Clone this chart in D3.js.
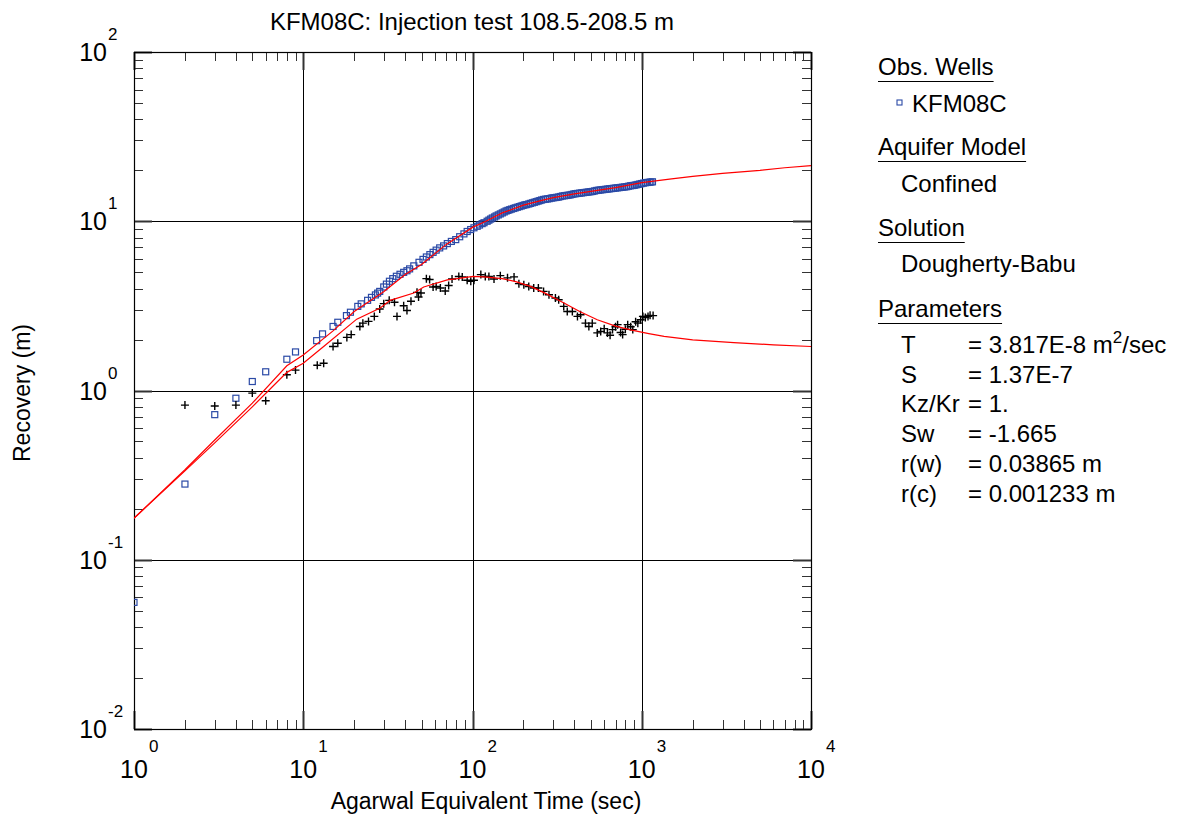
<!DOCTYPE html>
<html>
<head>
<meta charset="utf-8">
<script src="https://cdn.jsdelivr.net/npm/d3@7"></script>
<style>
  body { margin: 0; background: #fff; }
  text { font-family: Arial, "Liberation Sans", sans-serif; fill: #000; }
</style>
</head>
<body>
<div id="chart"></div>
<script>
////////////////// data ////////////////////////////////////

// observed recovery (blue squares)
const obsTime = [1, 2, 3, 4, 5, 6, 8, 9, 12, 13, 15, 16, 18, 19, 21, 22, 24, 25.3, 26.7, 27.5, 28.3, 29.9, 31, 32.3,
                 33.8, 35.5, 37.3, 39.2, 41, 42.5, 45, 48.3, 51, 53.4, 56, 58.5, 61, 64, 67.5, 71, 75, 79.6, 84, 89,
                 93, 97.6, 102, 106.6, 110, 114, 117, 122,
                 125, 128, 131, 135, 138, 142, 146, 150, 154, 158, 162, 166, 170, 175, 179, 184, 189, 194, 199, 204,
                 209, 215, 220, 226, 232, 238, 244, 250, 256, 263, 270, 277, 284, 292, 299, 307, 315, 323, 331, 340,
                 349, 358, 367, 377, 387, 397, 407, 418, 429, 440, 451, 463, 475, 487, 500, 513, 526, 540, 554, 568,
                 583, 598, 614, 630, 646, 663, 680, 698, 716, 735, 754, 773, 793, 814, 835, 857, 879, 902, 925, 949,
                 974, 999, 1025, 1052, 1079, 1107, 1132, 1157];
const obsRecovery = [0.056, 0.28, 0.72, 0.90, 1.13, 1.29, 1.53, 1.69, 1.97, 2.16, 2.39, 2.53, 2.77, 2.90, 3.14, 3.25, 3.41, 3.55, 3.67, 3.76, 3.85, 4.09, 4.25, 4.42,
                     4.58, 4.73, 4.86, 4.99, 5.10, 5.23, 5.45, 5.72, 5.95, 6.15, 6.35, 6.55, 6.75, 6.96, 7.15, 7.38, 7.60, 7.79, 8.10, 8.42,
                     8.70, 8.93, 9.15, 9.34, 9.50, 9.68, 9.80, 10.0,
                     10.15, 10.3, 10.45, 10.6, 10.75, 10.9, 11.05, 11.2, 11.35, 11.5, 11.6, 11.7, 11.8, 11.9, 12.0, 12.1, 12.2, 12.3, 12.4, 12.5,
                     12.55, 12.65, 12.75, 12.85, 12.95, 13.05, 13.15, 13.25, 13.35, 13.45, 13.5, 13.55, 13.6, 13.7, 13.75, 13.8, 13.85, 13.9, 14.0, 14.1,
                     14.15, 14.2, 14.25, 14.3, 14.4, 14.5, 14.55, 14.6, 14.65, 14.7, 14.75, 14.8, 14.85, 14.9, 14.95, 15.0, 15.1, 15.2, 15.25, 15.3,
                     15.35, 15.4, 15.45, 15.5, 15.55, 15.6, 15.65, 15.7, 15.75, 15.8, 15.85, 15.9, 15.95, 16.0, 16.1, 16.2, 16.25, 16.3, 16.4, 16.5,
                     16.6, 16.7, 16.8, 16.9, 16.95, 17.0, 17.05, 17.1];

// derivative (black crosses)
const derivTime = [2, 3, 4, 5, 6, 8, 9, 12.1, 13.2, 15, 16, 18.1, 19.2, 21.6, 22.5, 24.3, 26.3, 28.3, 29.9, 32.2, 34.6, 35.8,
                   39.2, 41, 43.3, 47, 48, 49.6, 53.4, 55.8, 58.5, 61, 64.6, 69, 72.3, 75.7, 83, 87, 93, 97.7, 102, 112,
                   119, 125, 134, 146, 161, 176, 188, 201, 215, 230, 245, 263, 283, 309, 323, 346, 363, 389, 417, 435,
                   465, 487, 510, 546, 572, 600, 627, 650, 672, 700, 720, 750, 771, 800, 826, 860, 885, 920, 948, 985,
                   1016, 1050, 1089, 1120, 1167];
const derivValue = [0.82, 0.81, 0.82, 0.965, 0.87, 1.24, 1.32, 1.41, 1.45, 1.82, 1.90, 2.06, 2.14, 2.39, 2.50, 2.56, 2.74, 3.03, 3.26, 3.41, 3.32, 2.74,
                    3.17, 2.97, 3.37, 3.80, 3.57, 3.77, 4.58, 4.53, 4.09, 4.12, 4.03, 3.87, 4.17, 4.56, 4.72, 4.69, 4.48, 4.42, 4.48, 4.84,
                    4.72, 4.72, 4.56, 4.77, 4.63, 4.69, 4.28, 4.22, 4.12, 4.03, 4.03, 3.85, 3.68, 3.52, 3.44, 3.14, 2.93, 2.93, 2.74, 2.80,
                    2.50, 2.39, 2.50, 2.19, 2.23, 2.32, 2.19, 2.12, 2.29, 2.38, 2.45, 2.20, 2.14, 2.30, 2.45, 2.38, 2.29, 2.55, 2.50, 2.62,
                    2.74, 2.70, 2.74, 2.78, 2.77];

// fitted type curves (red)
const fitTime = [1, 2, 3, 5, 8, 10, 15, 20, 30, 40, 50, 70, 100, 120, 150, 200, 250, 300, 400, 500, 700, 1000, 1500, 2000, 3000, 5000, 7000, 10000];
const fitRecovery = [0.176, 0.34, 0.51, 0.842, 1.40, 1.62, 2.25, 2.93, 3.85, 4.85, 5.55, 7.3, 9.2, 10.0, 11.2, 12.45, 13.2, 13.8, 14.5, 15.0, 15.8, 16.9, 17.8, 18.4, 19.2, 20.0, 20.7, 21.3];
const fitDerivTime = [1, 2, 3, 5, 8, 10, 13.2, 20.7, 28.5, 32.6, 45, 51.5, 71, 81.3, 101, 122, 150, 180, 220, 270, 347, 430, 546, 700, 858, 1100, 1355, 2000, 3500, 6000, 10000];
const fitDerivValue = [0.176, 0.335, 0.49, 0.80, 1.28, 1.45, 1.82, 2.64, 3.07, 3.41, 3.77, 4.09, 4.50, 4.58, 4.72, 4.68, 4.58, 4.40, 4.12, 3.75, 3.29, 2.93, 2.62, 2.40, 2.28, 2.17, 2.09, 1.99, 1.92, 1.86, 1.82];

// axis decades
const xDecades = [0, 1, 2, 3, 4];
const yDecades = [-2, -1, 0, 1, 2];

// legend / parameter box
const paramNames = ["T", "S", "Kz/Kr", "Sw", "r(w)", "r(c)"];
const paramValues = ["= 3.817E-8 m", "= 1.37E-7", "= 1.", "= -1.665", "= 0.03865 m", "= 0.001233 m"];

////////////////// setup ////////////////////////////////////

const width = 1189, height = 815;
const plot = {left: 134, top: 52, right: 811, bottom: 729};

let svg = d3.select("#chart")
            .append("svg")
            .attr("width", width)
            .attr("height", height);

let x = d3.scaleLog().domain([1, 1e4]).range([plot.left, plot.right]);
let y = d3.scaleLog().domain([0.01, 100]).range([plot.bottom, plot.top]);

svg.append("clipPath")
   .attr("id", "clip")
   .append("rect")
   .attr("x", plot.left)
   .attr("y", plot.top)
   .attr("width", plot.right - plot.left)
   .attr("height", plot.bottom - plot.top);

//minor tick values (2..9 in each decade)
let xMinor = [], yMinor = [];
xDecades.slice(0, -1).forEach(function(d) {
  for (let k = 2; k < 10; k++) xMinor.push(k * Math.pow(10, d));
});
yDecades.slice(0, -1).forEach(function(d) {
  for (let k = 2; k < 10; k++) yMinor.push(k * Math.pow(10, d));
});

//grid lines at decades
let grid = svg.append("g").attr("stroke", "#000").attr("stroke-width", 1);
grid.selectAll(".gx")
    .data(xDecades)
    .enter()
    .append("line")
    .attr("x1", d => Math.round(x(Math.pow(10, d))) + 0.5)
    .attr("x2", d => Math.round(x(Math.pow(10, d))) + 0.5)
    .attr("y1", plot.top)
    .attr("y2", plot.bottom);
grid.selectAll(".gy")
    .data(yDecades)
    .enter()
    .append("line")
    .attr("y1", d => Math.round(y(Math.pow(10, d))) + 0.5)
    .attr("y2", d => Math.round(y(Math.pow(10, d))) + 0.5)
    .attr("x1", plot.left)
    .attr("x2", plot.right);

//ticks on all four sides (inward)
let ticks = svg.append("g").attr("stroke", "#333").attr("stroke-width", 1);
function vTicks(vals, len, width) {
  vals.forEach(function(v) {
    let px = Math.round(x(v)) + 0.5;
    ticks.append("line").attr("x1", px).attr("x2", px).attr("y1", plot.top).attr("y2", plot.top + len).attr("stroke-width", width);
    ticks.append("line").attr("x1", px).attr("x2", px).attr("y1", plot.bottom).attr("y2", plot.bottom - len).attr("stroke-width", width);
  });
}
function hTicks(vals, len, width) {
  vals.forEach(function(v) {
    let py = Math.round(y(v)) + 0.5;
    ticks.append("line").attr("y1", py).attr("y2", py).attr("x1", plot.left).attr("x2", plot.left + len).attr("stroke-width", width);
    ticks.append("line").attr("y1", py).attr("y2", py).attr("x1", plot.right).attr("x2", plot.right - len).attr("stroke-width", width);
  });
}
vTicks(xMinor, 9, 1);
hTicks(yMinor, 9, 1);
vTicks(xDecades.map(d => Math.pow(10, d)), 18, 2);
hTicks(yDecades.map(d => Math.pow(10, d)), 18, 2);

//frame
svg.append("rect")
   .attr("x", plot.left + 0.5)
   .attr("y", plot.top + 0.5)
   .attr("width", plot.right - plot.left)
   .attr("height", plot.bottom - plot.top)
   .attr("fill", "none")
   .attr("stroke", "#000")
   .attr("stroke-width", 1.2);

////////////////// data marks ////////////////////////////////////

let marks = svg.append("g").attr("clip-path", "url(#clip)");

//blue squares
marks.append("g")
     .selectAll("rect")
     .data(obsTime)
     .enter()
     .append("rect")
     .attr("x", (d, i) => x(d) - 3)
     .attr("y", (d, i) => y(obsRecovery[i]) - 3)
     .attr("width", 6)
     .attr("height", 6)
     .attr("fill", "none")
     .attr("stroke", "#2b4aa6")
     .attr("stroke-width", 1.2);

//black crosses
marks.append("g")
     .selectAll("path")
     .data(derivTime)
     .enter()
     .append("path")
     .attr("d", (d, i) => {
       let cx = x(d), cy = y(derivValue[i]);
       return `M${cx - 4},${cy}H${cx + 4}M${cx},${cy - 4}V${cy + 4}`;
     })
     .attr("stroke", "#000")
     .attr("stroke-width", 1.4);

//red type curves
let line = d3.line().x(d => x(d[0])).y(d => y(d[1]));
marks.append("path")
     .datum(d3.zip(fitTime, fitRecovery))
     .attr("d", line)
     .attr("fill", "none")
     .attr("stroke", "#f00")
     .attr("stroke-width", 1.2);
marks.append("path")
     .datum(d3.zip(fitDerivTime, fitDerivValue))
     .attr("d", line)
     .attr("fill", "none")
     .attr("stroke", "#f00")
     .attr("stroke-width", 1.2);

////////////////// labels ////////////////////////////////////

//x tick labels
xDecades.forEach(function(d) {
  let px = x(Math.pow(10, d));
  svg.append("text").attr("x", px).attr("y", 778).style("text-anchor", "middle").style("font-size", "25px").text("10");
  svg.append("text").attr("x", px + 15).attr("y", 752).style("font-size", "17px").text(d);
});

//y tick labels
yDecades.forEach(function(d) {
  let py = y(Math.pow(10, d));
  svg.append("text").attr("x", 107).attr("y", py + 9).style("text-anchor", "end").style("font-size", "25px").text("10");
  svg.append("text").attr("x", 108).attr("y", py - 12).style("font-size", "17px").text(d);
});

//title and axis titles
svg.append("text")
   .attr("x", 472)
   .attr("y", 30)
   .style("text-anchor", "middle")
   .style("font-size", "24px")
   .text("KFM08C: Injection test 108.5-208.5 m");
svg.append("text")
   .attr("x", 486)
   .attr("y", 809)
   .style("text-anchor", "middle")
   .style("font-size", "23px")
   .text("Agarwal Equivalent Time (sec)");
svg.append("text")
   .attr("transform", "translate(30,393) rotate(-90)")
   .style("text-anchor", "middle")
   .style("font-size", "23px")
   .text("Recovery (m)");

////////////////// legend ////////////////////////////////////

let legend = svg.append("g").style("font-size", "24px");

//headings with underline
function heading(label, yb) {
  let t = legend.append("text").attr("x", 878).attr("y", yb).text(label);
  let w = t.node().getComputedTextLength();
  legend.append("line")
        .attr("x1", 878).attr("x2", 878 + w)
        .attr("y1", yb + 6.5).attr("y2", yb + 6.5)
        .attr("stroke", "#000").attr("stroke-width", 1.2);
}
heading("Obs. Wells", 75);
heading("Aquifer Model", 155);
heading("Solution", 236);
heading("Parameters", 317);

legend.append("rect")
      .attr("x", 897).attr("y", 100).attr("width", 5).attr("height", 5)
      .attr("fill", "none").attr("stroke", "#2b4aa6").attr("stroke-width", 1.1);
legend.append("text").attr("x", 912).attr("y", 112).text("KFM08C");
legend.append("text").attr("x", 901).attr("y", 192).text("Confined");
legend.append("text").attr("x", 901).attr("y", 272).text("Dougherty-Babu");

//parameter rows
paramNames.forEach(function(p, i) {
  let yb = 353 + i * 29.7;
  legend.append("text").attr("x", 901).attr("y", yb).text(p);
  let t = legend.append("text").attr("x", 968).attr("y", yb);
  t.append("tspan").text(paramValues[i]);
  if (i === 0) { // m^2/sec
    t.append("tspan").attr("dy", -10).style("font-size", "17px").text("2");
    t.append("tspan").attr("dy", 10).text("/sec");
  }
});
</script>
</body>
</html>
